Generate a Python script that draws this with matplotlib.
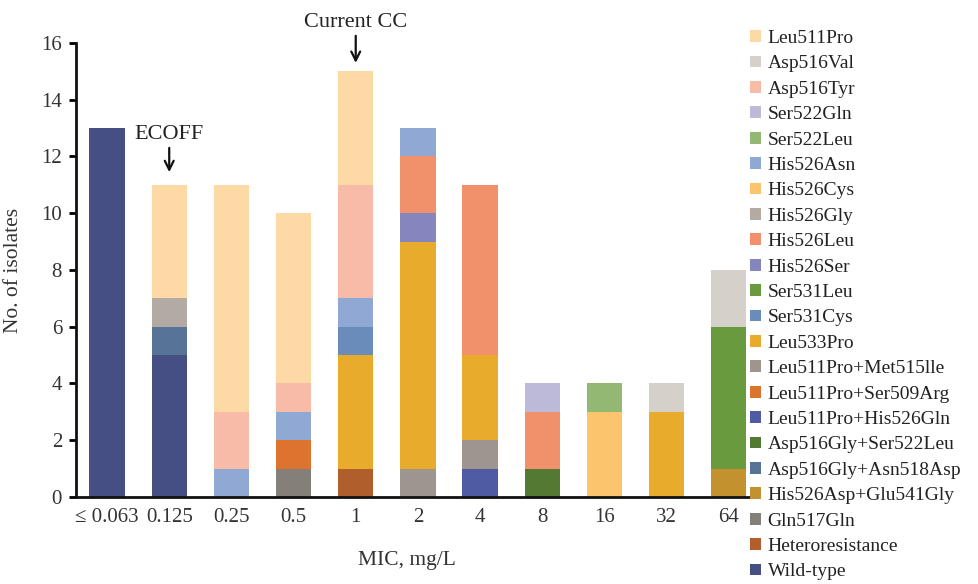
import matplotlib
matplotlib.use("Agg")
import matplotlib.pyplot as plt
import numpy as np

categories = ["\u2264 0.063", "0.125", "0.25", "0.5", "1", "2", "4", "8", "16", "32", "64"]

# series in stacking order (bottom -> top); values per category
wild_type            = [13, 5, 0, 0, 0, 0, 0, 0, 0, 0, 0]
heteroresistance     = [0, 0, 0, 0, 1, 0, 0, 0, 0, 0, 0]
gln517gln            = [0, 0, 0, 1, 0, 0, 0, 0, 0, 0, 0]
his526asp_glu541gly  = [0, 0, 0, 0, 0, 0, 0, 0, 0, 0, 1]
asp516gly_asn518asp  = [0, 1, 0, 0, 0, 0, 0, 0, 0, 0, 0]
asp516gly_ser522leu  = [0, 0, 0, 0, 0, 0, 0, 1, 0, 0, 0]
leu511pro_his526gln  = [0, 0, 0, 0, 0, 0, 1, 0, 0, 0, 0]
leu511pro_ser509arg  = [0, 0, 0, 1, 0, 0, 0, 0, 0, 0, 0]
leu511pro_met515ile  = [0, 0, 0, 0, 0, 1, 1, 0, 0, 0, 0]
leu533pro            = [0, 0, 0, 0, 4, 8, 3, 0, 0, 3, 0]
ser531cys            = [0, 0, 0, 0, 1, 0, 0, 0, 0, 0, 0]
ser531leu            = [0, 0, 0, 0, 0, 0, 0, 0, 0, 0, 5]
his526ser            = [0, 0, 0, 0, 0, 1, 0, 0, 0, 0, 0]
his526leu            = [0, 0, 0, 0, 0, 2, 6, 2, 0, 0, 0]
his526gly            = [0, 1, 0, 0, 0, 0, 0, 0, 0, 0, 0]
his526cys            = [0, 0, 0, 0, 0, 0, 0, 0, 3, 0, 0]
his526asn            = [0, 0, 1, 1, 1, 1, 0, 0, 0, 0, 0]
ser522leu            = [0, 0, 0, 0, 0, 0, 0, 0, 1, 0, 0]
ser522gln            = [0, 0, 0, 0, 0, 0, 0, 1, 0, 0, 0]
asp516tyr            = [0, 0, 2, 1, 4, 0, 0, 0, 0, 0, 0]
asp516val            = [0, 0, 0, 0, 0, 0, 0, 0, 0, 1, 2]
leu511pro            = [0, 4, 8, 6, 4, 0, 0, 0, 0, 0, 0]

series = [
    ("Wild-type", wild_type, "#464f84"),
    ("Heteroresistance", heteroresistance, "#b05f2c"),
    ("Gln517Gln", gln517gln, "#857f79"),
    ("His526Asp+Glu541Gly", his526asp_glu541gly, "#c3922f"),
    ("Asp516Gly+Asn518Asp", asp516gly_asn518asp, "#577396"),
    ("Asp516Gly+Ser522Leu", asp516gly_ser522leu, "#527a32"),
    ("Leu511Pro+His526Gln", leu511pro_his526gln, "#4f5ba3"),
    ("Leu511Pro+Ser509Arg", leu511pro_ser509arg, "#dc7430"),
    ("Leu511Pro+Met515lle", leu511pro_met515ile, "#9d958e"),
    ("Leu533Pro", leu533pro, "#e8ab2c"),
    ("Ser531Cys", ser531cys, "#6a8cba"),
    ("Ser531Leu", ser531leu, "#6a9a3e"),
    ("His526Ser", his526ser, "#8586bd"),
    ("His526Leu", his526leu, "#f0916c"),
    ("His526Gly", his526gly, "#b3aba3"),
    ("His526Cys", his526cys, "#fcc46c"),
    ("His526Asn", his526asn, "#8fa8d4"),
    ("Ser522Leu", ser522leu, "#93b874"),
    ("Ser522Gln", ser522gln, "#bdb9d9"),
    ("Asp516Tyr", asp516tyr, "#f7bba8"),
    ("Asp516Val", asp516val, "#d5d0ca"),
    ("Leu511Pro", leu511pro, "#fdd9a6"),
]

plt.rcParams['font.family'] = ['Liberation Serif', 'DejaVu Serif']

fig = plt.figure(figsize=(9.79, 5.84), dpi=100)
ax = fig.add_axes([0.0776, 0.149, 0.689, 0.7774])

x = np.arange(len(categories))
bottom = np.zeros(len(categories))
handles = []
for name, vals, col in series:
    v = np.array(vals, dtype=float)
    h = ax.bar(x, v, width=0.57, bottom=bottom, color=col, label=name, linewidth=0)
    handles.append(h)
    bottom += v

ax.set_xlim(-0.5, 10.35)
ax.set_ylim(0, 16)
ax.set_yticks(range(0, 17, 2))
ax.set_xticks(x)
ax.set_xticklabels(categories)
ax.tick_params(axis='x', length=0, labelsize=15, pad=8)
ax.tick_params(axis='y', length=5, width=2, labelsize=15, pad=5)
for t in ax.get_xticklabels() + ax.get_yticklabels():
    t.set_color('#333333')
for s in ['top', 'right']:
    ax.spines[s].set_visible(False)
for s in ['left', 'bottom']:
    ax.spines[s].set_linewidth(2)
    ax.spines[s].set_color('#111111')

ax.set_xlabel("MIC, mg/L", fontsize=15.5, color='#333333')
ax.xaxis.set_label_coords(0.49, -0.118)
ax.set_ylabel("No. of isolates", fontsize=15.5, color='#333333')
ax.yaxis.set_label_coords(-0.078, 0.5)

# annotations
arrow_kw = dict(arrowstyle="->", lw=1.6, color='#111111', mutation_scale=16)
ax.annotate("", xy=(1, 11.35), xytext=(1, 12.4), arrowprops=arrow_kw)
ax.text(1, 12.62, "ECOFF", ha='center', va='baseline', fontsize=16, color='#222222')
ax.annotate("", xy=(4, 15.2), xytext=(4, 16.35), arrowprops=arrow_kw,
            annotation_clip=False)
ax.text(4, 16.56, "Current CC", ha='center', va='baseline', fontsize=16, color='#222222',
        clip_on=False)

leg = fig.legend(handles[::-1], [s[0] for s in series][::-1],
                 loc='upper left', bbox_to_anchor=(0.758, 0.962),
                 frameon=False, fontsize=14, handlelength=0.55, handleheight=0.55,
                 handletextpad=0.36, labelspacing=0.432, borderaxespad=0)
for t in leg.get_texts():
    t.set_color('#222222')

fig.savefig("out.png", dpi=100)
